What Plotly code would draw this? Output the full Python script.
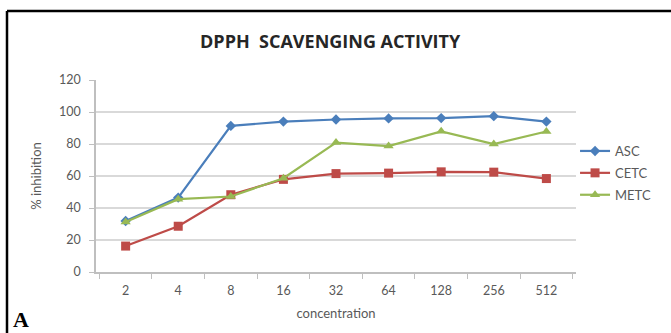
import plotly.graph_objects as go

concentration = ["2", "4", "8", "16", "32", "64", "128", "256", "512"]
asc = [31.9, 46.5, 91.3, 94.0, 95.3, 96.0, 96.2, 97.4, 94.0]
cetc = [16.2, 28.6, 48.3, 57.9, 61.5, 61.8, 62.6, 62.4, 58.4]
metc = [31.3, 45.5, 47.2, 58.6, 80.9, 78.7, 87.9, 80.0, 87.8]

BLUE = "#4A7EBB"
RED = "#BE4B48"
GREEN = "#98B954"
FONT = "Lato"

fig = go.Figure()
fig.add_trace(go.Scatter(x=concentration, y=asc, name="ASC", mode="lines+markers",
                         legendgroup="asc",
                         line=dict(color=BLUE, width=2.2),
                         marker=dict(symbol="diamond", size=8, color=BLUE)))
fig.add_trace(go.Scatter(x=concentration, y=cetc, name="CETC", mode="lines+markers",
                         legendgroup="cetc",
                         line=dict(color=RED, width=2.2),
                         marker=dict(symbol="square", size=9, color=RED)))
fig.add_trace(go.Scatter(x=concentration, y=metc, name="METC", mode="lines+markers",
                         legendgroup="metc",
                         line=dict(color=GREEN, width=2.2),
                         marker=dict(symbol="triangle-up", size=9, color=GREEN)))

fig.update_layout(
    width=671, height=333,
    margin=dict(l=96, r=95, t=80, b=61),
    paper_bgcolor="white", plot_bgcolor="white",
    font=dict(family=FONT, color="#595959", size=12),
    title=dict(text="<b>DPPH  SCAVENGING ACTIVITY</b>", x=0.492, xref="container",
               xanchor="center", y=1 - 42 / 333, yref="container", yanchor="middle",
               font=dict(family="Open Sans", size=18, color="#262626")),
    showlegend=True,
    legend=dict(x=0.998, xanchor="left", y=(272 - 173) / 192, yanchor="middle",
                font=dict(family=FONT, size=13, color="#595959"),
                itemwidth=30, bgcolor="rgba(0,0,0,0)", tracegroupgap=2),
    xaxis=dict(type="category", title=dict(text="concentration", standoff=12,
                                            font=dict(size=13, color="#595959")),
               showgrid=False, showline=True, linecolor="#BFBFBF", linewidth=1.5,
               ticks="outside", tickson="boundaries", ticklen=5, tickcolor="#BFBFBF",
               ticklabelstandoff=6,
               tickfont=dict(size=12.5, color="#595959")),
    yaxis=dict(range=[0, 120], dtick=20, title=dict(text="% inhibition", standoff=14,
                                                     font=dict(size=13, color="#595959")),
               showgrid=True, gridcolor="#D9D9D9", gridwidth=1.5,
               showline=True, linecolor="#BFBFBF", linewidth=1.5,
               ticks="outside", ticklen=5, tickcolor="#BFBFBF",
               ticklabelstandoff=6,
               tickfont=dict(size=12.5, color="#595959"), zeroline=False),
)

# frame (top and left edges)
fig.add_shape(type="line", xref="paper", yref="paper",
              x0=(7 - 96) / 480, x1=(680 - 96) / 480, y0=(272 - 11) / 192, y1=(272 - 11) / 192,
              line=dict(color="black", width=2.5))
fig.add_shape(type="line", xref="paper", yref="paper",
              x0=(7 - 96) / 480, x1=(7 - 96) / 480, y0=(272 - 11) / 192, y1=(272 - 345) / 192,
              line=dict(color="black", width=2.5))

fig.add_annotation(text="<b>A</b>", xref="paper", yref="paper",
                   x=(11 - 96) / 480, xanchor="left", y=(272 - 319) / 192, yanchor="middle",
                   showarrow=False, font=dict(family="Liberation Serif", size=22, color="black"))

fig.write_html("out.html")
